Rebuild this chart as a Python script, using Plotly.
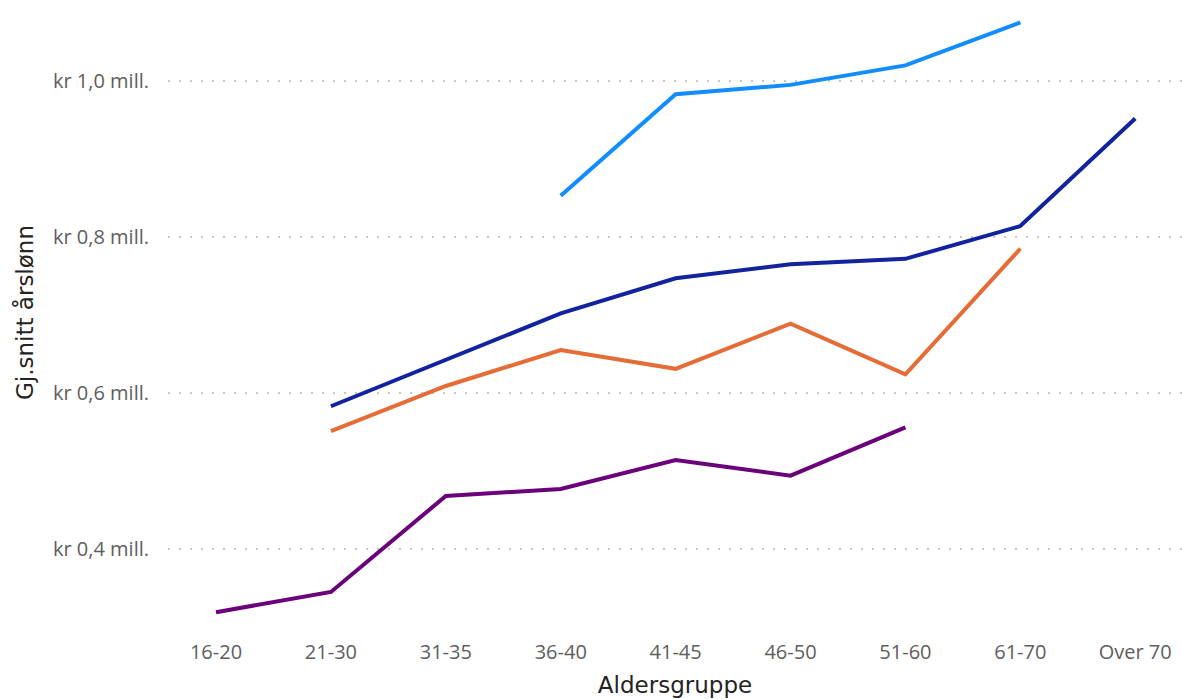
import plotly.graph_objects as go

# Age groups on the x axis
categories = ["16-20", "21-30", "31-35", "36-40", "41-45", "46-50", "51-60", "61-70", "Over 70"]

# Average yearly salary (million kr), None where a series has no value
light_blue = [None, None, None, 0.853, 0.983, 0.995, 1.020, 1.075, None]
dark_blue = [None, 0.583, 0.643, 0.702, 0.747, 0.765, 0.772, 0.814, 0.952]
orange = [None, 0.551, 0.609, 0.655, 0.631, 0.689, 0.624, 0.785, None]
purple = [0.319, 0.345, 0.468, 0.477, 0.514, 0.494, 0.556, None, None]

y_ticks = [0.4, 0.6, 0.8, 1.0]
y_tick_labels = ["kr 0,4 mill.", "kr 0,6 mill.", "kr 0,8 mill.", "kr 1,0 mill."]

series = [
    (light_blue, "#118DFF"),
    (dark_blue, "#12239E"),
    (orange, "#E66C37"),
    (purple, "#6B007B"),
]

fig = go.Figure()
for values, color in series:
    fig.add_trace(go.Scatter(
        x=categories, y=values, mode="lines",
        line=dict(color=color, width=4),
        connectgaps=False, showlegend=False,
    ))

tick_font = dict(family="Open Sans", size=20, color="#605E5C")
title_font = dict(family="DejaVu Sans", size=23, color="#252423")

fig.update_xaxes(
    type="category", range=[-0.418, 8.407],
    showgrid=False, showline=False, zeroline=False, automargin=False,
    ticks="outside", ticklen=9, tickcolor="rgba(0,0,0,0)",
    tickfont=tick_font,
    title=dict(text="Aldersgruppe", standoff=12, font=title_font),
)
fig.update_yaxes(
    range=[0.3026, 1.1038],
    tickvals=y_ticks, ticktext=y_tick_labels,
    showgrid=True, gridcolor="#C8C6C4", gridwidth=1.5, griddash="2px,9px",
    zeroline=False, showline=False, automargin=False,
    ticks="outside", ticklen=14, tickcolor="rgba(0,0,0,0)",
    tickfont=tick_font,
    title=dict(text="Gj.snitt årslønn", standoff=12, font=title_font),
)

fig.update_layout(
    width=1182, height=699,
    margin=dict(l=168, r=0, t=0, b=74),
    plot_bgcolor="white", paper_bgcolor="white",
)

fig.write_html("out.html", config={"displayModeBar": False})

# drop the default page margin so the chart sits at the window corner
with open("out.html", encoding="utf-8") as f:
    html = f.read()
html = html.replace("<body>", '<body style="margin:0">', 1)
with open("out.html", "w", encoding="utf-8") as f:
    f.write(html)
